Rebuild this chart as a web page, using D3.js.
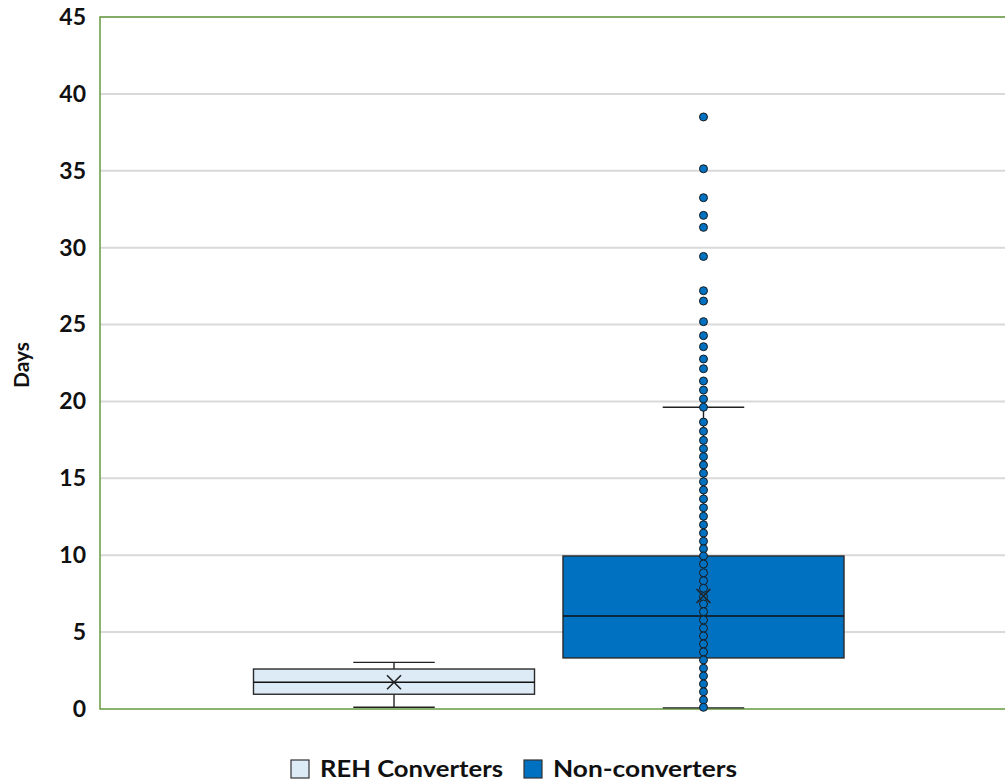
<!DOCTYPE html>
<html><head><meta charset="utf-8">
<script src="https://cdn.jsdelivr.net/npm/d3@7"></script>
<style>body{margin:0;background:#fff;} text{font-family:Lato,"Open Sans",sans-serif;}</style>
</head><body>
<svg id="c" width="1005" height="784"></svg>
<script>
const series = ["REH Converters", "Non-converters"];
const colors = ["#DDEBF7", "#0070C0"];
const whiskerLow = [0.11, 0.07];
const q1 = [0.96, 3.32];
const median = [1.74, 6.05];
const q3 = [2.60, 9.95];
const whiskerHigh = [3.03, 19.62];
const mean = [1.74, 7.35];
const yTicks = [0, 5, 10, 15, 20, 25, 30, 35, 40, 45];
// Non-converters: all data points shown (inner points + outliers)
const nonConverterPoints = [38.50, 35.13, 33.25, 32.10, 31.32, 29.43, 27.20, 26.53, 25.19, 24.28,
  23.56, 22.76, 22.13, 21.33, 20.74, 20.16, 19.62, 18.66, 18.06, 17.47, 16.93, 16.41, 15.87,
  15.33, 14.78, 14.24, 13.66, 13.09, 12.53, 11.98, 11.44, 10.91, 10.42, 9.95, 9.43, 8.86,
  8.34, 7.85, 7.30, 6.83, 6.33, 5.79, 5.25, 4.75, 4.23, 3.71, 3.19, 2.65, 2.15, 1.63,
  1.12, 0.59, 0.11];

const svg = d3.select("#c");
const plot = {left: 100, top: 17, right: 1010, bottom: 709};

const y = d3.scaleLinear().domain([0, 45]).range([plot.bottom, plot.top]);
const x = d3.scaleBand().domain(series).range([253.5, 844]).paddingInner(0.092).paddingOuter(0);

// gridlines
svg.append("g").selectAll("line").data(yTicks.filter(d => d > 0)).join("line")
  .attr("x1", plot.left).attr("x2", plot.right)
  .attr("y1", d => y(d)).attr("y2", d => y(d))
  .attr("stroke", "#d9d9d9").attr("stroke-width", 2);

// y axis labels
const yAxis = d3.axisLeft(y).tickValues(yTicks).tickSize(0).tickPadding(14);
const ga = svg.append("g").attr("transform", `translate(${plot.left},0)`).call(yAxis);
ga.select(".domain").remove();
ga.selectAll("text").attr("font-size", 23).attr("font-weight", "bold").attr("fill", "#111")
  .style("font-family", "Lato, sans-serif");

// plot border
svg.append("rect").attr("x", plot.left).attr("y", plot.top)
  .attr("width", plot.right - plot.left).attr("height", plot.bottom - plot.top)
  .attr("fill", "none").attr("stroke", "#70A04A").attr("stroke-width", 1.6);

// axis title
svg.append("text").attr("transform", `translate(29,365) rotate(-90)`)
  .attr("text-anchor", "middle").attr("font-size", 21).attr("font-weight", "bold")
  .attr("fill", "#111").text("Days");

// boxes
const bw = x.bandwidth();
const capW = bw * 0.29;
series.forEach((s, i) => {
  const g = svg.append("g");
  const cx = x(s) + bw / 2;
  g.append("line").attr("x1", cx).attr("x2", cx).attr("y1", y(q3[i])).attr("y2", y(whiskerHigh[i]))
    .attr("stroke", "#222").attr("stroke-width", 1.4);
  g.append("line").attr("x1", cx).attr("x2", cx).attr("y1", y(q1[i])).attr("y2", y(whiskerLow[i]))
    .attr("stroke", "#222").attr("stroke-width", 1.4);
  [whiskerHigh[i], whiskerLow[i]].forEach(v => {
    g.append("line").attr("x1", cx - capW / 2).attr("x2", cx + capW / 2)
      .attr("y1", y(v)).attr("y2", y(v)).attr("stroke", "#222").attr("stroke-width", 1.4);
  });
  g.append("rect").attr("x", x(s)).attr("y", y(q3[i])).attr("width", bw)
    .attr("height", y(q1[i]) - y(q3[i])).attr("fill", colors[i])
    .attr("stroke", "#2a2a2a").attr("stroke-width", 1.4);
  g.append("line").attr("x1", x(s)).attr("x2", x(s) + bw)
    .attr("y1", y(median[i])).attr("y2", y(median[i])).attr("stroke", "#111").attr("stroke-width", 1.4);
});

// points for Non-converters
const cx2 = x(series[1]) + bw / 2;
svg.append("g").selectAll("circle").data(nonConverterPoints).join("circle")
  .attr("cx", cx2).attr("cy", d => y(d)).attr("r", 4)
  .attr("fill", colors[1]).attr("stroke", "#1a1a1a").attr("stroke-width", 1);

// mean markers
series.forEach((s, i) => {
  const cx = x(s) + bw / 2, cy = y(mean[i]), m = 7;
  svg.append("path").attr("d", `M${cx - m},${cy - m}L${cx + m},${cy + m}M${cx - m},${cy + m}L${cx + m},${cy - m}`)
    .attr("stroke", "#222").attr("stroke-width", 1.6).attr("fill", "none");
});

// legend
const legend = svg.append("g").attr("transform", "translate(0,769)");
const items = [{x: 291, w: 183, t: series[0], c: colors[0]}, {x: 524, w: 184, t: series[1], c: colors[1]}];
items.forEach(it => {
  legend.append("rect").attr("x", it.x).attr("y", -9).attr("width", 18).attr("height", 18)
    .attr("fill", it.c).attr("stroke", "#333").attr("stroke-width", 1.2);
  legend.append("text").attr("x", it.x + 29).attr("y", 8).attr("font-size", 23).attr("font-weight", "bold")
    .attr("fill", "#111").attr("textLength", it.w).attr("lengthAdjust", "spacingAndGlyphs").text(it.t);
});
</script>
</body></html>
